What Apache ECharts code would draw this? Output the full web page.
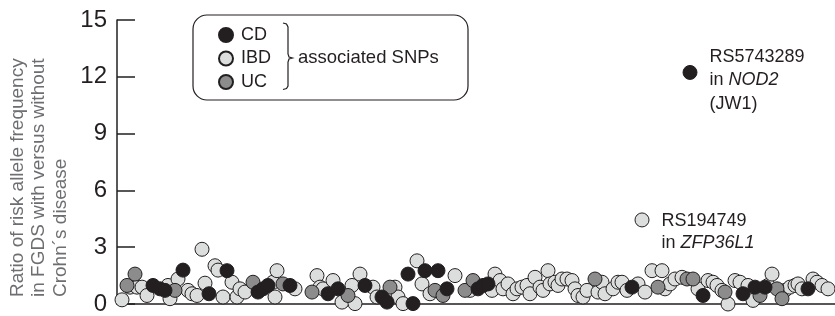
<!DOCTYPE html>
<html>
<head>
<meta charset="utf-8">
<script src="https://cdn.jsdelivr.net/npm/echarts@6/dist/echarts.min.js"></script>
<style>
  html, body { margin: 0; padding: 0; background: #fff; }
  #chart { width: 835px; height: 316px; }
</style>
</head>
<body>
<div id="chart"></div>
<script>
// y ticks
const yTicks = [0, 3, 6, 9, 12, 15];

// [position along SNP order, ratio]
const cdPoints = [
  [36, 0.98], [43, 0.80], [48, 0.72], [66, 1.79], [92, 0.54], [110, 1.76],
  [141, 0.63], [146, 0.80], [151, 0.98], [173, 0.98], [211, 0.54], [221, 0.80],
  [248, 0.98], [265, 0.37], [270, 0.10], [291, 1.58], [296, 0.02], [308, 1.76],
  [321, 1.76], [330, 0.80], [361, 0.80], [366, 0.98], [371, 1.06], [515, 0.89],
  [573, 12.23], [586, 0.45], [626, 0.54], [638, 0.89], [648, 0.89], [691, 0.80]
];
const ucPoints = [
  [10, 0.98], [18, 1.58], [58, 0.72], [136, 1.15], [166, 1.06], [195, 0.63],
  [231, 0.45], [273, 0.89], [318, 0.72], [326, 0.45], [348, 0.72], [356, 1.24],
  [478, 1.32], [541, 0.89], [570, 1.32], [576, 1.32], [608, 0.63], [643, 0.45],
  [660, 0.80], [665, 0.28]
];
const ibdPoints = [
  [5, 0.22], [13, 0.89], [20, 0.89], [25, 0.89], [30, 0.45], [51, 0.98], [53, 0.28],
  [61, 1.32], [71, 0.72], [75, 0.54], [80, 0.45], [85, 2.89], [88, 1.10], [98, 2.02],
  [101, 1.79], [106, 0.37], [115, 1.15], [120, 0.37], [123, 0.80], [128, 0.63],
  [156, 1.15], [158, 0.37], [160, 1.76], [178, 0.80], [200, 1.50], [203, 0.89],
  [206, 0.80], [216, 1.24], [225, 0.10], [235, 0.98], [238, 0.02], [243, 1.58],
  [256, 0.89], [260, 0.37], [278, 0.89], [281, 0.37], [286, 0.02], [300, 2.28],
  [305, 1.06], [313, 0.54], [338, 1.50], [353, 0.72], [375, 0.72], [378, 1.58],
  [383, 1.24], [386, 0.80], [391, 1.06], [396, 0.54], [400, 0.80], [405, 0.89],
  [410, 0.98], [413, 0.54], [418, 1.41], [423, 0.89], [426, 0.72], [431, 1.76],
  [433, 1.06], [438, 1.15], [441, 0.98], [445, 1.32], [450, 1.32], [455, 1.24],
  [458, 0.80], [461, 0.45], [466, 0.37], [470, 0.72], [481, 0.63], [485, 1.15],
  [488, 0.54], [496, 0.80], [501, 1.15], [505, 1.15], [510, 0.72], [521, 1.06],
  [525, 4.44], [528, 0.63], [535, 1.76], [545, 1.76], [548, 0.80], [553, 1.06],
  [558, 1.32], [565, 1.41], [581, 0.80], [591, 1.24], [596, 1.15], [600, 0.98],
  [605, 0.72], [611, 0.00], [618, 1.24], [623, 1.15], [631, 0.98], [636, 0.19],
  [651, 0.98], [655, 1.58], [668, 0.72], [673, 0.89], [678, 0.98], [681, 1.06],
  [685, 0.80], [696, 1.32], [700, 1.15], [705, 0.98], [711, 0.80]
];

// labelled SNPs
const nod2 = { at: [573, 12.23], text: 'RS5743289\nin {i|NOD2}\n(JW1)' };
const zfp = { at: [525, 4.44], text: 'RS194749\nin {i|ZFP36L1}' };

const ink = '#231f20';
const font = 'Liberation Sans';

const labelStyle = (offsetY, lh) => ({
  show: true,
  position: 'right',
  distance: 12,
  offset: [0, offsetY],
  color: ink,
  fontFamily: font,
  fontSize: 18,
  lineHeight: lh,
  rich: { i: { fontStyle: 'italic', fontSize: 18, fontFamily: font, color: ink, lineHeight: lh } }
});

// mark the annotated point inside a list
const withLabel = (list, ann, offY, lh) => list.map(p =>
  (p[0] === ann.at[0] && p[1] === ann.at[1])
    ? { value: p, label: Object.assign(labelStyle(offY, lh), { formatter: ann.text }) }
    : p);

const chart = echarts.init(document.getElementById('chart'));

const dot = (color) => ({ color: color, borderColor: ink, borderWidth: 1, opacity: 1 });

chart.setOption({
  animation: false,
  grid: { left: 117, right: 0, top: 20, bottom: 9 },
  xAxis: {
    type: 'value', min: 0, max: 718,
    axisLine: { lineStyle: { color: ink, width: 1.5 } },
    axisTick: { show: false }, axisLabel: { show: false }, splitLine: { show: false }
  },
  yAxis: {
    type: 'value', min: yTicks[0], max: yTicks[yTicks.length - 1], interval: 3,
    axisLine: { show: true, lineStyle: { color: ink, width: 1.5 } },
    axisTick: { show: true, inside: true, length: 18, lineStyle: { color: ink, width: 1.5 } },
    axisLabel: { color: ink, fontSize: 24, fontFamily: font, margin: 10 },
    splitLine: { show: false }
  },
  legend: {
    data: ['CD', 'IBD', 'UC'],
    orient: 'vertical',
    left: 213, top: 21,
    itemWidth: 14, itemHeight: 14, itemGap: 5.5,
    icon: 'circle',
    textStyle: { color: ink, fontSize: 18, fontFamily: font, lineHeight: 16, padding: [0, 0, 0, 3] },
    selectedMode: false
  },
  graphic: [
    {
      type: 'rect', x: 193, y: 15,
      shape: { x: 0, y: 0, width: 275, height: 85, r: 14 },
      style: { fill: 'none', stroke: ink, lineWidth: 1.2 }
    },
    {
      type: 'polyline', x: 0, y: 0,
      shape: { points: [[283, 23], [286.5, 24], [288, 27], [288, 54], [289, 57], [292.5, 58],
        [289, 59], [288, 62], [288, 86], [286.5, 88.5], [283, 89.5]] },
      style: { fill: 'none', stroke: ink, lineWidth: 1.2 }
    },
    {
      type: 'text', x: 298, y: 58,
      style: {
        text: 'associated SNPs', fill: ink, font: '18.5px "Liberation Sans"',
        verticalAlign: 'middle'
      }
    },
    {
      type: 'text', x: 7, y: 297, rotation: Math.PI / 2,
      style: {
        text: 'Ratio of risk allele frequency\nin FGDS with versus without\nCrohn\u00b4s disease',
        fill: '#6d6e71', font: '19px "Liberation Sans"', lineHeight: 21.5,
        align: 'left', verticalAlign: 'top'
      }
    }
  ],
  series: [
    {
      name: 'IBD', type: 'scatter', symbolSize: 14, clip: false,
      itemStyle: dot('#dcdddd'),
      data: withLabel(ibdPoints, zfp, 12, 22)
    },
    {
      name: 'UC', type: 'scatter', symbolSize: 14, clip: false,
      itemStyle: dot('#8c8c8c'),
      data: ucPoints
    },
    {
      name: 'CD', type: 'scatter', symbolSize: 14, clip: false,
      itemStyle: dot(ink),
      data: withLabel(cdPoints, nod2, 8, 23.5)
    }
  ]
});
</script>
</body>
</html>
